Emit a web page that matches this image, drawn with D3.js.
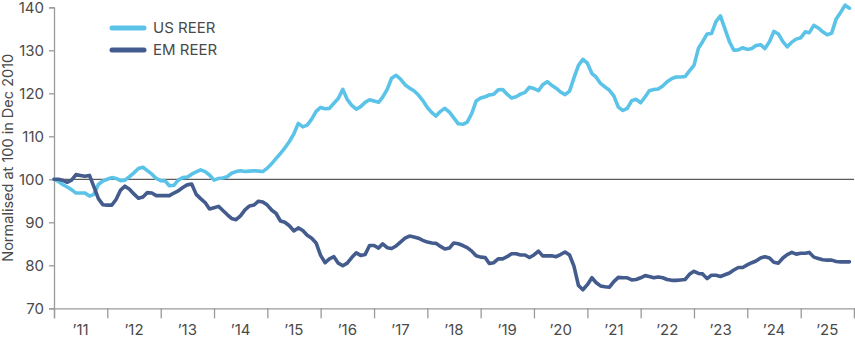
<!DOCTYPE html>
<html>
<head>
<meta charset="utf-8">
<script src="https://cdn.jsdelivr.net/npm/d3@7"></script>
<style>
  html, body { margin: 0; padding: 0; background: #fff; }
  svg { display: block; font-family: Inter, "Noto Sans", sans-serif; }
</style>
</head>
<body>
<svg id="chart" width="855" height="339"></svg>
<script>
// Real effective exchange rates, month-end, Dec 2010 = 100
const firstMonth = "2010-12";

const usReer = [
  100, 99.5, 98.8, 98.2, 97.6, 96.8, 96.8, 96.8, 96.1, 96.5, 98.8, 99.6,
  100, 100.4, 100.2, 99.7, 99.8, 100.6, 101.5, 102.5, 102.8, 102, 101.2, 100.2,
  99.7, 99.6, 98.5, 98.6, 99.8, 100.4, 100.5, 101.2, 101.7, 102.2, 101.8, 101,
  99.8, 100.2, 100.3, 100.6, 101.4, 101.8, 102, 101.8, 101.9, 102, 101.9, 101.8,
  102.6, 103.7, 104.8, 106, 107.3, 108.8, 110.5, 113, 112.2, 112.6, 114, 115.8,
  116.7, 116.4, 116.5, 117.7, 118.8, 120.9, 118.6, 117.2, 116.3, 116.9, 117.9, 118.5,
  118.2, 117.9, 119.1, 120.9, 123.5, 124.2, 123.3, 122, 121.2, 120.6, 119.6, 118.3,
  116.7, 115.5, 114.7, 115.8, 116.5, 115.6, 114.3, 112.9, 112.8, 113.3, 115.3, 118.2,
  118.9, 119.2, 119.6, 119.8, 120.8, 120.9, 119.8, 118.9, 119.2, 119.8, 120.2, 121.4,
  121.1, 120.6, 122, 122.7, 121.9, 121.2, 120.3, 119.7, 120.5, 123.6, 126.5, 127.9,
  127, 124.6, 123.8, 122.3, 121.5, 120.7, 119.4, 116.8, 116, 116.5, 118.3, 118.6,
  117.8, 119.2, 120.6, 120.9, 121, 121.7, 122.7, 123.4, 123.8, 123.8, 123.9, 125.2,
  126.5, 130.5, 132, 133.8, 133.9, 136.7, 138, 135, 132, 130, 130.1, 130.6,
  130.2, 130.4, 131.1, 131.3, 130.4, 132, 134.4, 133.8, 132, 130.8, 131.9, 132.6,
  132.9, 134.3, 134.1, 135.8, 135.2, 134.3, 133.6, 134, 137.3, 138.8, 140.5, 139.8
];

const emReer = [
  100, 100, 99.8, 99.3, 99.8, 101.1, 100.9, 100.7, 100.9, 98.3, 95.5, 94.1,
  94, 94, 95.3, 97.5, 98.4, 97.7, 96.6, 95.6, 95.9, 96.9, 96.8, 96.2,
  96.2, 96.2, 96.2, 96.8, 97.3, 98.1, 98.7, 98.9, 96.5, 95.5, 94.6, 93.1,
  93.4, 93.7, 92.8, 91.8, 90.9, 90.6, 91.5, 92.9, 93.8, 94, 94.9, 94.7,
  94, 92.8, 92.1, 90.3, 90, 89.2, 88, 88.7, 88.1, 87, 86.3, 85.2,
  82.3, 80.6, 81.5, 82, 80.5, 79.9, 80.5, 81.8, 82.9, 82.3, 82.5, 84.6,
  84.6, 84, 85, 84.1, 83.9, 84.5, 85.4, 86.3, 86.8, 86.6, 86.3, 85.8,
  85.4, 85.2, 85.1, 84.4, 83.8, 84, 85.2, 85, 84.6, 84.1, 83.3, 82.2,
  81.9, 81.8, 80.4, 80.6, 81.5, 81.5, 82, 82.7, 82.7, 82.4, 82.4, 81.8,
  82.4, 83.3, 82.2, 82.2, 82.2, 82, 82.5, 83.1, 82.4, 79.8, 75.3, 74.3,
  75.5, 77.1, 76, 75.2, 75, 74.9, 76.2, 77.2, 77.1, 77.1, 76.6, 76.7,
  77.1, 77.6, 77.4, 77.1, 77.3, 77.1, 76.7, 76.5, 76.5, 76.6, 76.7, 77.9,
  78.6, 78.1, 78, 76.9, 77.7, 77.7, 77.4, 77.8, 78.2, 78.9, 79.5, 79.5,
  80.1, 80.6, 81, 81.7, 82, 81.7, 80.7, 80.5, 81.7, 82.5, 83, 82.6,
  82.8, 82.8, 83, 81.9, 81.6, 81.3, 81.2, 81.2, 80.9, 80.8, 80.8, 80.8
];

const yTicks = [70, 80, 90, 100, 110, 120, 130, 140];
const yearLabels = ["’11", "’12", "’13", "’14", "’15", "’16", "’17", "’18",
                    "’19", "’20", "’21", "’22", "’23", "’24", "’25"];

const seriesNames = ["US REER", "EM REER"];
const seriesColors = ["#5BC3E8", "#435C8D"];

const svg = d3.select("#chart");
const margin = { left: 54, right: 1, top: 7.3, bottom: 30.7 };
const W = 855, H = 339;

// Each value is dated at the end of its month (first day of the following month)
const start = d3.timeMonth.offset(d3.timeParse("%Y-%m")(firstMonth), 1);
const dateAt = i => d3.timeMonth.offset(start, i);

const firstYear = 2011;
const x = d3.scaleTime()
  .domain([new Date(firstYear, 0, 1), new Date(firstYear + yearLabels.length, 0, 1)])
  .range([margin.left, W - margin.right]);

const y = d3.scaleLinear()
  .domain([70, 140])
  .range([H - margin.bottom, margin.top]);

const axisColor = "#9a9a9a";
const textColor = "#4a4a4a";

// Y axis
const yAxis = svg.append("g")
  .attr("transform", `translate(${margin.left},0)`)
  .call(d3.axisLeft(y).tickValues(yTicks).tickSize(5).tickPadding(5).tickFormat(d3.format("d")));
yAxis.select(".domain").attr("stroke", axisColor).attr("stroke-width", 1.3);
yAxis.selectAll(".tick line").attr("stroke", axisColor).attr("stroke-width", 1.3);
yAxis.selectAll(".tick text")
  .attr("fill", textColor)
  .style("font-size", "15px")
  .style("font-family", "Inter, sans-serif");

// X axis: ticks on year boundaries, labels centred within each year
const yearStarts = d3.range(yearLabels.length + 1).map(k => new Date(firstYear + k, 0, 1));
const xAxis = svg.append("g")
  .attr("transform", `translate(0,${y(70)})`)
  .call(d3.axisBottom(x).tickValues(yearStarts).tickSize(10).tickFormat(""));
xAxis.select(".domain").attr("stroke", axisColor).attr("stroke-width", 1.3);
xAxis.selectAll(".tick line").attr("stroke", axisColor).attr("stroke-width", 1.3);

svg.append("g")
  .selectAll("text")
  .data(yearLabels)
  .join("text")
  .attr("x", (d, k) => x(new Date(firstYear + k, 6, 2)))
  .attr("y", y(70) + 27)
  .attr("text-anchor", "middle")
  .attr("fill", textColor)
  .style("font-size", "15px")
  .text(d => d);

// Y axis title
svg.append("text")
  .attr("transform", `translate(13,${(y(70) + y(140)) / 2}) rotate(-90)`)
  .attr("text-anchor", "middle")
  .attr("fill", textColor)
  .style("font-size", "14.5px")
  .text("Normalised at 100 in Dec 2010");

// Baseline at 100
svg.append("line")
  .attr("x1", x.range()[0]).attr("x2", x.range()[1])
  .attr("y1", y(100)).attr("y2", y(100))
  .attr("stroke", "#333")
  .attr("stroke-width", 1);

// Series lines
const line = d3.line()
  .x((d, i) => x(dateAt(i)))
  .y(d => y(d));

[usReer, emReer].forEach((vals, k) => {
  svg.append("path")
    .datum(vals)
    .attr("fill", "none")
    .attr("stroke", seriesColors[k])
    .attr("stroke-width", 3.6)
    .attr("stroke-linejoin", "round")
    .attr("stroke-linecap", "round")
    .attr("d", line);
});

// Legend
const legend = svg.append("g");
seriesNames.forEach((name, k) => {
  const ly = 28 + k * 22;
  legend.append("line")
    .attr("x1", 112).attr("x2", 144)
    .attr("y1", ly).attr("y2", ly)
    .attr("stroke", seriesColors[k])
    .attr("stroke-width", 5)
    .attr("stroke-linecap", "round");
  legend.append("text")
    .attr("x", 153).attr("y", ly + 5)
    .attr("fill", textColor)
    .style("font-size", "15px")
    .text(name);
});
</script>
</body>
</html>
